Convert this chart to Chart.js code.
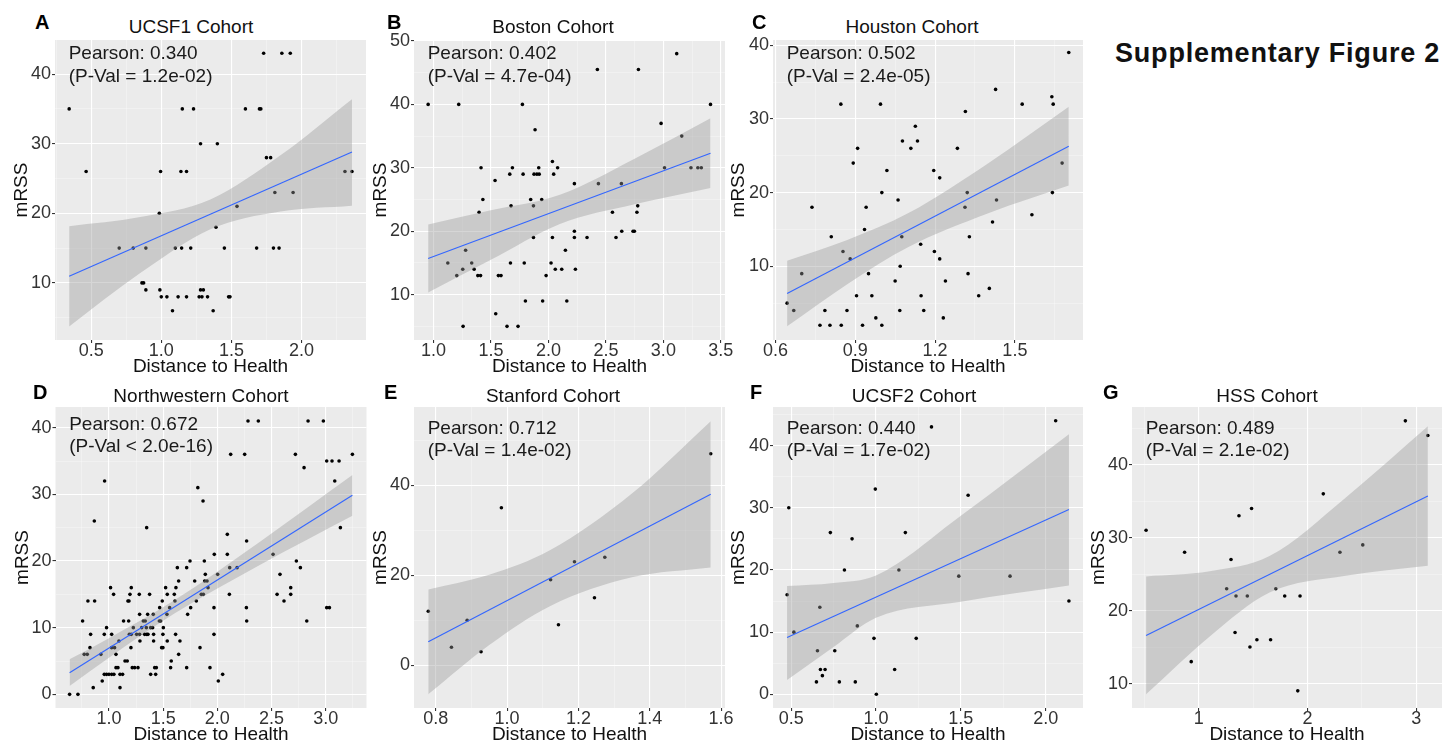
<!DOCTYPE html>
<html>
<head>
<meta charset="utf-8">
<script src="https://cdn.jsdelivr.net/npm/chart.js@4.4.1/dist/chart.umd.min.js"></script>
<style>
  body { margin: 0; width: 1455px; height: 742px; position: relative; overflow: hidden; background: #fff;
         font-family: 'Liberation Sans', Arial, sans-serif; }
  canvas { position: absolute; }
  .tag { position: absolute; font-weight: bold; font-size: 20px; line-height: 20px; color: #000; }
  .cohort { position: absolute; font-size: 19px; line-height: 19px; color: #111; white-space: nowrap; transform: translateX(-50%); }
  #figTitle { position: absolute; left: 1115px; top: 40px; font-weight: bold; font-size: 27px; line-height: 27px;
              letter-spacing: 0.8px; color: #111; white-space: nowrap; }
</style>
</head>
<body>
<div id="figTitle">Supplementary Figure 2</div>
<script>
// UCSF1
const ucsf1Dist = [0.343, 0.464, 0.70, 0.80, 0.89, 0.862, 0.874, 0.89, 0.986, 0.99, 0.995, 1.00, 1.04, 1.08, 1.10,
  1.12, 1.14, 1.145, 1.15, 1.18, 1.18, 1.21, 1.23, 1.27, 1.29, 1.28, 1.30, 1.28, 1.33, 1.37, 1.39, 1.40, 1.45,
  1.48, 1.49, 1.54, 1.60, 1.68, 1.70, 1.71, 1.73, 1.75, 1.78, 1.80, 1.81, 1.84, 1.86, 1.92, 1.94, 2.31, 2.36];
const ucsf1Mrss = [35, 26, 15, 15, 15, 10, 10, 9, 20, 9, 26, 8, 8, 6, 15,
  8, 26, 15, 35, 26, 8, 15, 35, 8, 8, 9, 9, 30, 8, 6, 18, 30, 15,
  8, 8, 21, 35, 15, 35, 35, 43, 28, 28, 15, 23, 15, 43, 43, 23, 26, 26];
const ucsf1FitX = [0.343, 2.36];
const ucsf1FitY = [10.95, 28.8];
const ucsf1BandX = [0.343, 0.85, 1.35, 1.85, 2.36];
const ucsf1BandLo = [3.75, 11.41, 17.72, 20.27, 21.1];
const ucsf1BandHi = [18.15, 19.47, 22.0, 28.33, 36.4];
const ucsf1XTicks = ['0.5', '1.0', '1.5', '2.0'];
const ucsf1YTicks = ['10', '20', '30', '40'];

// Boston
const bostonDist = [0.954, 1.125, 1.203, 1.22, 1.255, 1.258, 1.28, 1.333, 1.354, 1.386, 1.41, 1.397, 1.414, 1.43,
  1.536, 1.542, 1.565, 1.588, 1.64, 1.664, 1.67, 1.675, 1.687, 1.736, 1.774, 1.78, 1.79, 1.80, 1.846, 1.87,
  1.87, 1.875, 1.884, 1.90, 1.92, 1.916, 1.942, 1.95, 1.98, 2.023, 2.035, 2.035, 2.046, 2.06, 2.08, 2.116,
  2.148, 2.16, 2.226, 2.226, 2.226, 2.235, 2.336, 2.426, 2.435, 2.557, 2.588, 2.635, 2.638, 2.736, 2.748,
  2.77, 2.777, 2.783, 2.98, 3.01, 3.116, 3.16, 3.24, 3.30, 3.33, 3.41];
const bostonMrss = [40, 15, 13, 40, 14, 5, 17, 15, 14, 13, 13, 23, 30, 25,
  28, 7, 13, 13, 5, 29, 15, 24, 30, 5, 40, 29, 15, 9, 25, 24,
  19, 29, 36, 29, 29, 30, 25, 9, 13, 15, 31, 19, 29, 14, 30, 14,
  17, 9, 27.5, 20, 19, 14, 19, 45.5, 27.5, 23, 19, 27.5, 20, 20, 20,
  23, 24, 45.5, 37, 30, 48, 35, 30, 30, 30, 40];
const bostonFitX = [0.954, 3.41];
const bostonFitY = [15.7, 32.3];
const bostonBandX = [0.954, 1.5, 2.1, 2.75, 3.41];
const bostonBandLo = [10.35, 15.49, 21.15, 24.24, 26.8];
const bostonBandHi = [21.05, 23.29, 25.75, 31.44, 37.8];
const bostonXTicks = ['1.0', '1.5', '2.0', '2.5', '3.0', '3.5'];
const bostonYTicks = ['10', '20', '30', '40', '50'];

// Houston
const houstonDist = [0.644, 0.669, 0.699, 0.7375, 0.7675, 0.786, 0.805, 0.81, 0.846, 0.8475, 0.854, 0.869, 0.881,
  0.8925, 0.905, 0.909, 0.9275, 0.935, 0.941, 0.95, 0.9625, 0.9775, 0.995, 1.0, 1.0, 1.019, 1.05, 1.061, 1.0675,
  1.069, 1.075, 1.0775, 1.109, 1.126, 1.134, 1.146, 1.1475, 1.1575, 1.195, 1.1975, 1.2175, 1.2175, 1.231, 1.239,
  1.284, 1.3125, 1.314, 1.321, 1.324, 1.329, 1.364, 1.404, 1.416, 1.4275, 1.431, 1.5275, 1.564, 1.639, 1.641,
  1.644, 1.6775, 1.7025];
const houstonMrss = [5, 4, 9, 18, 2, 4, 2, 14, 32, 2, 12, 4, 11,
  24, 6, 26, 2, 15, 18, 9, 6, 3, 32, 20, 2, 23, 8, 19, 4,
  10, 14, 27, 26, 29, 27, 13, 6, 4, 23, 12, 22, 11, 3, 8,
  26, 18, 31, 20, 9, 14, 6, 7, 16, 34, 19, 32, 17, 33, 20,
  32, 24, 39];
const houstonFitX = [0.644, 1.7025];
const houstonFitY = [6.3, 26.3];
const houstonBandX = [0.644, 0.87, 1.1, 1.4, 1.7025];
const houstonBandLo = [1.85, 7.57, 12.62, 17.19, 20.95];
const houstonBandHi = [10.75, 13.57, 17.22, 23.99, 31.65];
const houstonXTicks = ['0.6', '0.9', '1.2', '1.5'];
const houstonYTicks = ['10', '20', '30', '40'];

// Northwestern
const nwDist = [
  2.283, 2.378, 2.837, 2.978,
  2.123, 2.252, 2.72, 3.246,
  3.009, 3.058, 3.123,
  2.8,
  0.96, 3.083,
  1.82, 1.868, 0.865,
  1.348, 3.135, 2.092, 2.27,
  1.972, 2.092, 2.514,
  1.748, 1.88, 2.729,
  1.631, 1.717, 2.114, 2.182, 2.766,
  1.889, 2.003, 2.578,
  1.643, 1.791, 1.883, 1.905,
  1.015, 1.206, 1.523, 1.618, 1.914, 2.677,
  1.043, 1.194, 1.28, 1.375, 1.538, 1.603, 1.852, 1.871, 2.111, 2.551, 2.677,
  0.806, 0.868, 1.175, 1.185, 1.492, 1.609, 1.806, 2.615,
  1.468, 1.56, 1.754, 1.969, 2.268, 3.009, 3.034,
  1.283, 1.357, 1.409, 1.535, 1.726,
  0.757, 1.135, 1.182, 1.317, 1.335, 1.465, 1.477, 2.271, 2.825,
  0.978, 1.225, 1.302, 1.345, 1.385, 1.403, 1.502,
  0.831, 0.957, 1.025, 1.188, 1.206, 1.255, 1.283, 1.329, 1.348, 1.36, 1.412, 1.498, 1.615, 1.969,
  1.092, 1.286, 1.412, 1.538, 1.655,
  0.825, 1.025, 1.052, 1.203, 1.486, 1.498, 1.84,
  0.772, 0.8, 0.926, 1.065, 1.643,
  1.148, 1.169, 1.575,
  1.065, 1.083, 1.215, 1.237, 1.268, 1.422, 1.437, 1.569, 1.717, 1.932,
  0.957, 0.978, 1.0, 1.025, 1.046, 1.102, 1.126, 1.385, 1.431, 2.049,
  0.938, 2.009,
  0.855, 1.102,
  0.637, 0.714];
const nwMrss = [
  41, 41, 41, 41,
  36, 36, 36, 36,
  35, 35, 35,
  34,
  32, 32,
  31, 29, 26,
  25, 25, 24, 23,
  21, 21, 21,
  20, 20, 20,
  19, 19, 19, 19, 19,
  18, 18, 18,
  17, 17, 17, 17,
  16, 16, 16, 16, 16, 16,
  15, 15, 15, 15, 15, 15, 15, 15, 15, 15, 15,
  14, 14, 14, 14, 14, 14, 14, 14,
  13, 13, 13, 13, 13, 13, 13,
  12, 12, 12, 12, 12,
  11, 11, 11, 11, 11, 11, 11, 11, 11,
  10, 10, 10, 10, 10, 10, 10,
  9, 9, 9, 9, 9, 9, 9, 9, 9, 9, 9, 9, 9, 9,
  8, 8, 8, 8, 8,
  7, 7, 7, 7, 7, 7, 7,
  6, 6, 6, 6, 6,
  5, 5, 5,
  4, 4, 4, 4, 4, 4, 4, 4, 4, 4,
  3, 3, 3, 3, 3, 3, 3, 3, 3, 3,
  2, 2,
  1, 1,
  0, 0];
const nwFitX = [0.637, 3.246];
const nwFitY = [3.25, 29.85];
const nwBandX = [0.637, 1.0, 1.6, 2.4, 3.246];
const nwBandLo = [1.25, 5.48, 12.07, 19.48, 26.8];
const nwBandHi = [5.25, 8.42, 14.07, 22.98, 32.9];
const nwXTicks = ['1.0', '1.5', '2.0', '2.5', '3.0'];
const nwYTicks = ['0', '10', '20', '30', '40'];

// Stanford
const stanfordDist = [0.779, 0.844, 0.888, 0.927, 0.984, 1.122, 1.144, 1.189, 1.245, 1.274, 1.571];
const stanfordMrss = [12, 4, 10, 3, 35, 19, 9, 23, 15, 24, 47];
const stanfordFitX = [0.779, 1.571];
const stanfordFitY = [5.2, 38.0];
const stanfordBandX = [0.779, 0.95, 1.12, 1.35, 1.571];
const stanfordBandLo = [-6.45, 4.5, 13.14, 19.56, 21.75];
const stanfordBandHi = [16.85, 20.1, 25.54, 38.16, 54.25];
const stanfordXTicks = ['0.8', '1.0', '1.2', '1.4', '1.6'];
const stanfordYTicks = ['0', '20', '40'];

// UCSF2
const ucsf2Dist = [0.476, 0.486, 0.516, 0.649, 0.655, 0.669, 0.6725, 0.70, 0.684, 0.731, 0.757, 0.784, 0.814, 0.859,
  0.878, 0.89, 0.988, 0.996, 1.002, 1.11, 1.135, 1.173, 1.237, 1.327, 1.488, 1.543, 1.79, 2.059, 2.137];
const ucsf2Mrss = [16, 30, 10, 2, 7, 14, 4, 4, 3, 26, 7, 2, 20, 25,
  2, 11, 9, 33, 0, 4, 20, 26, 9, 43, 19, 32, 19, 44, 15];
const ucsf2FitX = [0.476, 2.137];
const ucsf2FitY = [9.14, 29.7];
const ucsf2BandX = [0.476, 0.75, 1.0, 1.5, 2.137];
const ucsf2BandLo = [2.3, 7.6, 12.3, 14.9, 17.5];
const ucsf2BandHi = [17.4, 17.9, 19.1, 28.7, 41.8];
const ucsf2XTicks = ['0.5', '1.0', '1.5', '2.0'];
const ucsf2YTicks = ['0', '10', '20', '30', '40'];

// HSS
const hssDist = [0.5145, 0.869, 0.93, 1.256, 1.296, 1.333, 1.342, 1.369, 1.446, 1.47, 1.485, 1.534, 1.66, 1.708,
  1.79, 1.91, 1.931, 2.145, 2.298, 2.508, 2.9, 3.107];
const hssMrss = [31, 28, 13, 23, 27, 17, 22, 33, 22, 15, 34, 16, 16, 23,
  22, 9, 22, 36, 28, 29, 46, 44];
const hssFitX = [0.5145, 3.107];
const hssFitY = [16.6, 35.7];
const hssBandX = [0.5145, 1.1, 1.65, 2.35, 3.107];
const hssBandLo = [8.52, 16.45, 22.47, 24.78, 26.15];
const hssBandHi = [24.68, 25.39, 27.47, 35.48, 45.25];
const hssXTicks = ['1', '2', '3'];
const hssYTicks = ['10', '20', '30', '40'];

const panels = [
  { tag: 'A', title: 'UCSF1 Cohort', note: ['Pearson: 0.340', '(P-Val = 1.2e-02)'], noteY: 19.3,
    dist: ucsf1Dist, mrss: ucsf1Mrss, fitX: ucsf1FitX, fitY: ucsf1FitY,
    bandX: ucsf1BandX, bandLo: ucsf1BandLo, bandHi: ucsf1BandHi, xTicks: ucsf1XTicks, yTicks: ucsf1YTicks,
    xRange: [0.242, 2.46], yRange: [1.8, 44.9], box: [55, 40, 366, 340], yTitleX: 22, titleX: 191, tagX: 35, row: 0 },
  { tag: 'B', title: 'Boston Cohort', note: ['Pearson: 0.402', '(P-Val = 4.7e-04)'], noteY: 19.3,
    dist: bostonDist, mrss: bostonMrss, fitX: bostonFitX, fitY: bostonFitY,
    bandX: bostonBandX, bandLo: bostonBandLo, bandHi: bostonBandHi, xTicks: bostonXTicks, yTicks: bostonYTicks,
    xRange: [0.831, 3.536], yRange: [2.85, 50.15], box: [414, 40, 725, 340], yTitleX: 381, titleX: 553, tagX: 387, row: 0 },
  { tag: 'C', title: 'Houston Cohort', note: ['Pearson: 0.502', '(P-Val = 2.4e-05)'], noteY: 19.3,
    dist: houstonDist, mrss: houstonMrss, fitX: houstonFitX, fitY: houstonFitY,
    bandX: houstonBandX, bandLo: houstonBandLo, bandHi: houstonBandHi, xTicks: houstonXTicks, yTicks: houstonYTicks,
    xRange: [0.591, 1.756], yRange: [0, 40.7], box: [773, 40, 1083, 340], yTitleX: 739, titleX: 912, tagX: 752, row: 0 },
  { tag: 'D', title: 'Northwestern Cohort', note: ['Pearson: 0.672', '(P-Val < 2.0e-16)'], noteY: 22.6,
    dist: nwDist, mrss: nwMrss, fitX: nwFitX, fitY: nwFitY,
    bandX: nwBandX, bandLo: nwBandLo, bandHi: nwBandHi, xTicks: nwXTicks, yTicks: nwYTicks,
    xRange: [0.507, 3.376], yRange: [-2.05, 43.1], box: [55, 407, 366, 708], yTitleX: 22.5, titleX: 201, tagX: 33, row: 1 },
  { tag: 'E', title: 'Stanford Cohort', note: ['Pearson: 0.712', '(P-Val = 1.4e-02)'], noteY: 26.7,
    dist: stanfordDist, mrss: stanfordMrss, fitX: stanfordFitX, fitY: stanfordFitY,
    bandX: stanfordBandX, bandLo: stanfordBandLo, bandHi: stanfordBandHi, xTicks: stanfordXTicks, yTicks: stanfordYTicks,
    xRange: [0.739, 1.611], yRange: [-9.5, 57.4], box: [414, 407, 725, 708], yTitleX: 381, titleX: 553, tagX: 384, row: 1 },
  { tag: 'F', title: 'UCSF2 Cohort', note: ['Pearson: 0.440', '(P-Val = 1.7e-02)'], noteY: 26.7,
    dist: ucsf2Dist, mrss: ucsf2Mrss, fitX: ucsf2FitX, fitY: ucsf2FitY,
    bandX: ucsf2BandX, bandLo: ucsf2BandLo, bandHi: ucsf2BandHi, xTicks: ucsf2XTicks, yTicks: ucsf2YTicks,
    xRange: [0.393, 2.22], yRange: [-2.2, 46.2], box: [773, 407, 1083, 708], yTitleX: 739, titleX: 914, tagX: 750, row: 1 },
  { tag: 'G', title: 'HSS Cohort', note: ['Pearson: 0.489', '(P-Val = 2.1e-02)'], noteY: 26.7,
    dist: hssDist, mrss: hssMrss, fitX: hssFitX, fitY: hssFitY,
    bandX: hssBandX, bandLo: hssBandLo, bandHi: hssBandHi, xTicks: hssXTicks, yTicks: hssYTicks,
    xRange: [0.385, 3.237], yRange: [6.65, 47.9], box: [1132, 407, 1442, 708], yTitleX: 1099, titleX: 1267, tagX: 1103, row: 1 }
];

const rowTagTop = [12, 382.4];
const rowTitleTop = [16.5, 385.8];

const FONT = "'Liberation Sans', Arial, sans-serif";
Chart.defaults.font.family = FONT;

const PAD = 2.6;        // gap left of the y-axis title
const TITLE_LH = 22.8;  // 19px * 1.2
const X_AXIS_H = 38;
const EDGE = 42;

// major ticks get labels, midpoints get faint minor grid lines
function gridValues(labels, min, max) {
  const major = labels.map(Number);
  const half = (major[1] - major[0]) / 2;
  const vals = [];
  for (let k = -1; ; k++) {
    const v = +(major[0] + k * half).toFixed(6);
    if (v > max + 1e-9) break;
    if (v >= min - 1e-9) vals.push(v);
  }
  return vals;
}
function labelFor(labels, value) {
  const hit = labels.find(l => Math.abs(Number(l) - value) < 1e-6);
  return hit === undefined ? '' : hit;
}
function isMajor(labels, value) {
  return labels.some(l => Math.abs(Number(l) - value) < 1e-6);
}
function pairs(xs, ys) {
  return xs.map((x, i) => ({ x: x, y: ys[i] }));
}

const panelBg = {
  id: 'panelBg',
  beforeDraw(chart) {
    const { ctx, chartArea: a } = chart;
    ctx.save();
    ctx.fillStyle = '#EBEBEB';
    ctx.fillRect(a.left, a.top, a.right - a.left, a.bottom - a.top);
    ctx.restore();
  }
};

const noteText = {
  id: 'noteText',
  afterDatasetsDraw(chart, args, opts) {
    const { ctx, chartArea: a } = chart;
    ctx.save();
    ctx.font = '19px ' + FONT;
    ctx.fillStyle = '#1a1a1a';
    ctx.textBaseline = 'alphabetic';
    ctx.textAlign = 'left';
    opts.lines.forEach((t, i) => ctx.fillText(t, a.left + 13.7, a.top + opts.y + i * 22.7));
    ctx.restore();
  }
};

function axis(labels, range, title, isX, yWidth) {
  return {
    type: 'linear',
    min: range[0],
    max: range[1],
    afterBuildTicks: s => { s.ticks = gridValues(labels, range[0], range[1]).map(v => ({ value: v })); },
    afterFit: s => { if (isX) s.height = X_AXIS_H; else s.width = yWidth; },
    ticks: {
      autoSkip: false,
      maxRotation: 0,
      padding: isX ? -3 : 1,
      color: '#333',
      font: { size: 18 },
      callback: v => labelFor(labels, v)
    },
    grid: {
      color: c => isMajor(labels, c.tick.value) ? '#ffffff' : 'rgba(255,255,255,0.5)',
      lineWidth: c => isMajor(labels, c.tick.value) ? 1.1 : 0.6,
      tickLength: 3,
      tickColor: c => isMajor(labels, c.tick.value) ? '#333' : 'rgba(0,0,0,0)'
    },
    border: { display: false },
    title: { display: true, text: title, color: '#111', font: { size: 19 }, padding: 0 }
  };
}

panels.forEach(p => {
  const [bl, bt, br, bb] = p.box;
  const left = p.yTitleX - TITLE_LH / 2 - PAD;
  const top = bt - EDGE;
  const width = Math.round(br + 24 - left);
  const height = bb + EDGE - top;

  const tag = document.createElement('div');
  tag.className = 'tag';
  tag.textContent = p.tag;
  tag.style.left = p.tagX + 'px';
  tag.style.top = rowTagTop[p.row] + 'px';
  document.body.appendChild(tag);

  const ttl = document.createElement('div');
  ttl.className = 'cohort';
  ttl.textContent = p.title;
  ttl.style.left = p.titleX + 'px';
  ttl.style.top = rowTitleTop[p.row] + 'px';
  document.body.appendChild(ttl);

  const canvas = document.createElement('canvas');
  canvas.width = width;
  canvas.height = height;
  canvas.style.width = width + 'px';
  canvas.style.height = height + 'px';
  canvas.style.left = left + 'px';
  canvas.style.top = top + 'px';
  document.body.appendChild(canvas);

  new Chart(canvas, {
    type: 'scatter',
    data: {
      datasets: [
        { data: pairs(p.dist, p.mrss), pointRadius: 1.8, pointBackgroundColor: '#000', pointBorderWidth: 0, order: 3 },
        { data: pairs(p.bandX, p.bandLo), showLine: true, borderWidth: 0, borderColor: 'rgba(0,0,0,0)',
          pointRadius: 0, cubicInterpolationMode: 'monotone', order: 2 },
        { data: pairs(p.bandX, p.bandHi), showLine: true, borderWidth: 0, borderColor: 'rgba(0,0,0,0)',
          pointRadius: 0, cubicInterpolationMode: 'monotone', fill: '-1', backgroundColor: 'rgba(153,153,153,0.4)', order: 2 },
        { data: pairs(p.fitX, p.fitY), showLine: true, borderColor: '#3366FF', borderWidth: 1.1, pointRadius: 0, order: 1 }
      ]
    },
    options: {
      responsive: false,
      animation: false,
      devicePixelRatio: 1,
      layout: { padding: { left: PAD, top: EDGE, right: width - (br - left), bottom: EDGE - X_AXIS_H } },
      plugins: {
        legend: { display: false },
        tooltip: { enabled: false },
        noteText: { lines: p.note, y: p.noteY }
      },
      scales: {
        x: axis(p.xTicks, p.xRange, 'Distance to Health', true),
        y: axis(p.yTicks, p.yRange, 'mRSS', false, bl - left - PAD)
      }
    },
    plugins: [panelBg, noteText]
  });
});
</script>
</body>
</html>
